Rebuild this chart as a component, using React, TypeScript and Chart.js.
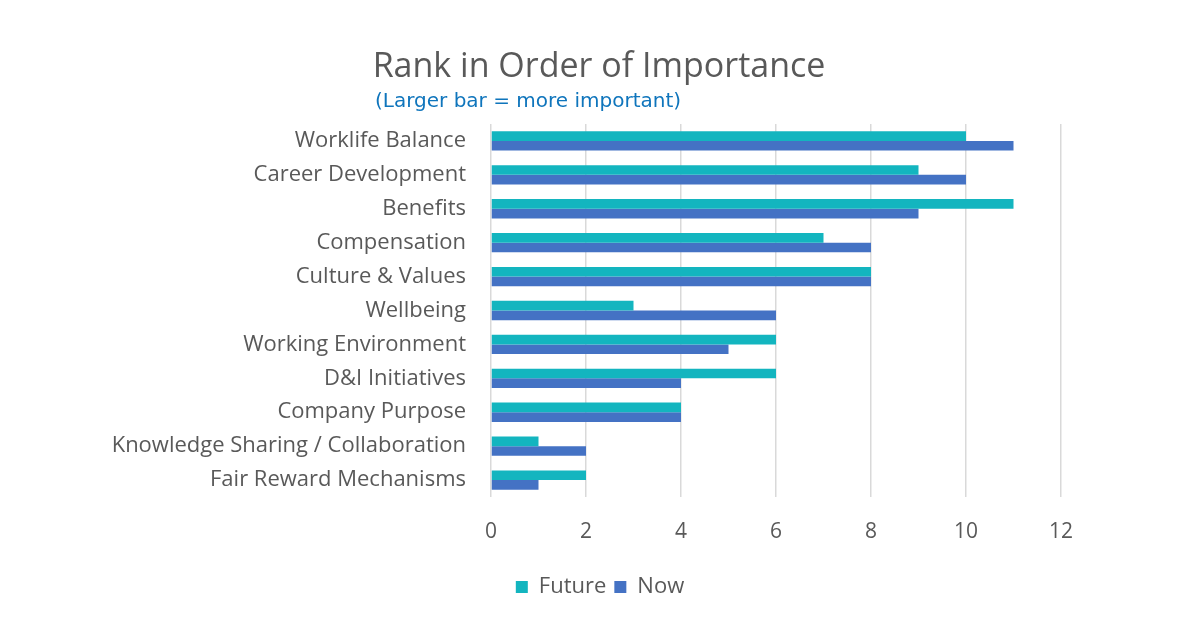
import { useEffect, useRef } from "react";
import { Chart, registerables } from "chart.js";

Chart.register(...registerables);

const categories = [
  "Worklife Balance",
  "Career Development",
  "Benefits",
  "Compensation",
  "Culture & Values",
  "Wellbeing",
  "Working Environment",
  "D&I Initiatives",
  "Company Purpose",
  "Knowledge Sharing / Collaboration",
  "Fair Reward Mechanisms",
];
const future = [10, 9, 11, 7, 8, 3, 6, 6, 4, 1, 2];
const now = [11, 10, 9, 8, 8, 6, 5, 4, 4, 2, 1];

const TITLE = "Rank in Order of Importance";
const SUBTITLE = "(Larger bar = more important)";

const LABEL_FONT = "'Open Sans', sans-serif";

// title and subtitle sit at fixed spots above the plot, like the original
const headings = {
  id: "headings",
  afterDraw(chart: Chart) {
    const { ctx } = chart;
    ctx.save();
    ctx.textBaseline = "middle";
    ctx.fillStyle = "#595959";
    ctx.font = `34px ${LABEL_FONT}`;
    ctx.textAlign = "center";
    ctx.fillText(TITLE, 599, 67);
    ctx.fillStyle = "#0f75bc";
    ctx.font = "20px 'DejaVu Sans', sans-serif";
    ctx.textAlign = "left";
    ctx.fillText(SUBTITLE, 375, 102);
    ctx.restore();
  },
};

export default function App() {
  const ref = useRef<HTMLCanvasElement>(null);

  useEffect(() => {
    if (!ref.current) return;
    const chart = new Chart(ref.current, {
      type: "bar",
      data: {
        labels: categories,
        datasets: [
          { label: "Future", data: future, backgroundColor: "#13b5bf" },
          { label: "Now", data: now, backgroundColor: "#4472c4" },
        ],
      },
      options: {
        indexAxis: "y",
        responsive: false,
        animation: false,
        layout: { padding: { top: 124, right: 0, bottom: 16, left: 0 } },
        datasets: { bar: { categoryPercentage: 0.57, barPercentage: 1 } },
        scales: {
          x: {
            min: 0,
            max: 12,
            ticks: {
              stepSize: 2,
              padding: 22,
              color: "#595959",
              font: { family: LABEL_FONT, size: 21 },
            },
            grid: { color: "#d9d9d9", lineWidth: 1.5, drawTicks: false },
            border: { display: false },
            afterFit: (s: any) => {
              s.height = 71;
            },
          },
          y: {
            ticks: {
              padding: 17,
              color: "#595959",
              font: { family: LABEL_FONT, size: 22 },
              autoSkip: false,
            },
            grid: { display: false },
            border: { display: false },
            afterFit: (s: any) => {
              s.width = 491;
            },
          },
          // empty right-hand axis keeps the plot narrow while the legend centres on the canvas
          spacer: {
            type: "linear",
            axis: "y",
            position: "right",
            display: true,
            ticks: { display: false },
            grid: { display: false },
            border: { display: false },
            afterFit: (s: any) => {
              s.width = 139;
            },
          },
        },
        plugins: {
          legend: {
            position: "bottom",
            labels: {
              boxWidth: 12,
              boxHeight: 12,
              padding: 8,
              color: "#595959",
              font: { family: LABEL_FONT, size: 22 },
            },
          },
          tooltip: { enabled: false },
        },
      },
      plugins: [headings],
    });
    return () => chart.destroy();
  }, []);

  return (
    <div style={{ position: "absolute", left: 0, top: 0, width: 1200, height: 624, background: "#fff" }}>
      <canvas ref={ref} width={1200} height={624} />
    </div>
  );
}
